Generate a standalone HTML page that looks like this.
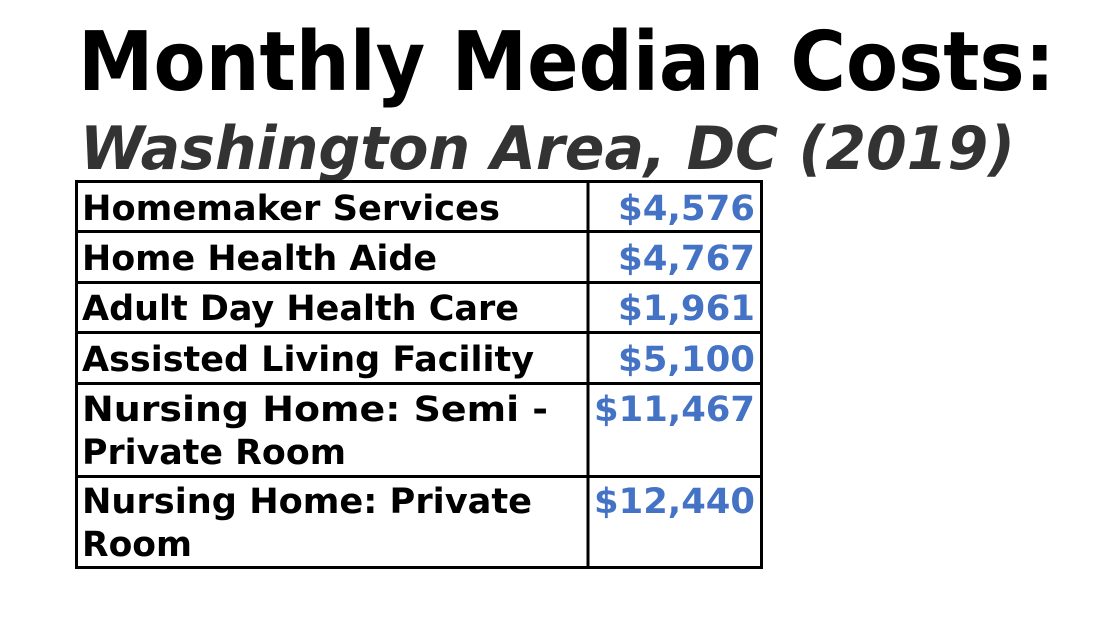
<!DOCTYPE html>
<html><head><meta charset="utf-8"><style>
html,body{margin:0;padding:0;background:#fff;}
svg{display:block;}
text{font-family:"DejaVu Sans","Liberation Sans",sans-serif;font-weight:bold;}
</style></head><body>
<svg width="1107" height="624" viewBox="0 0 1107 624" xmlns="http://www.w3.org/2000/svg">
<text x="78" y="90" font-size="82" fill="#000" textLength="977" lengthAdjust="spacingAndGlyphs">Monthly Median Costs:</text>
<text x="80" y="169" font-size="60" font-style="italic" fill="#333" textLength="935" lengthAdjust="spacingAndGlyphs">Washington Area, DC (2019)</text>
<g stroke="#000" stroke-width="3" fill="none">
<rect x="76.5" y="181.5" width="685" height="386"/>
<line x1="588" y1="181" x2="588" y2="568"/>
<line x1="76" y1="231.5" x2="762" y2="231.5"/>
<line x1="76" y1="282.5" x2="762" y2="282.5"/>
<line x1="76" y1="332.5" x2="762" y2="332.5"/>
<line x1="76" y1="383.5" x2="762" y2="383.5"/>
<line x1="76" y1="476.5" x2="762" y2="476.5"/>
</g>
<g font-size="35" fill="#000">
<text x="82" y="220" textLength="418" lengthAdjust="spacingAndGlyphs">Homemaker Services</text>
<text x="82" y="270" textLength="355" lengthAdjust="spacingAndGlyphs">Home Health Aide</text>
<text x="82" y="320" textLength="437" lengthAdjust="spacingAndGlyphs">Adult Day Health Care</text>
<text x="82" y="371" textLength="452" lengthAdjust="spacingAndGlyphs">Assisted Living Facility</text>
<text x="82" y="421" textLength="466" lengthAdjust="spacingAndGlyphs">Nursing Home: Semi -</text>
<text x="82" y="464" textLength="264" lengthAdjust="spacingAndGlyphs">Private Room</text>
<text x="82" y="513" textLength="450" lengthAdjust="spacingAndGlyphs">Nursing Home: Private</text>
<text x="82" y="556" textLength="110" lengthAdjust="spacingAndGlyphs">Room</text>
</g>
<g font-size="35" fill="#4472C4">
<text x="618" y="220" textLength="137" lengthAdjust="spacingAndGlyphs">$4,576</text>
<text x="618" y="270" textLength="137" lengthAdjust="spacingAndGlyphs">$4,767</text>
<text x="618" y="320" textLength="137" lengthAdjust="spacingAndGlyphs">$1,961</text>
<text x="618" y="371" textLength="137" lengthAdjust="spacingAndGlyphs">$5,100</text>
<text x="594" y="421" textLength="161" lengthAdjust="spacingAndGlyphs">$11,467</text>
<text x="594" y="513" textLength="161" lengthAdjust="spacingAndGlyphs">$12,440</text>
</g>
</svg>
</body></html>
